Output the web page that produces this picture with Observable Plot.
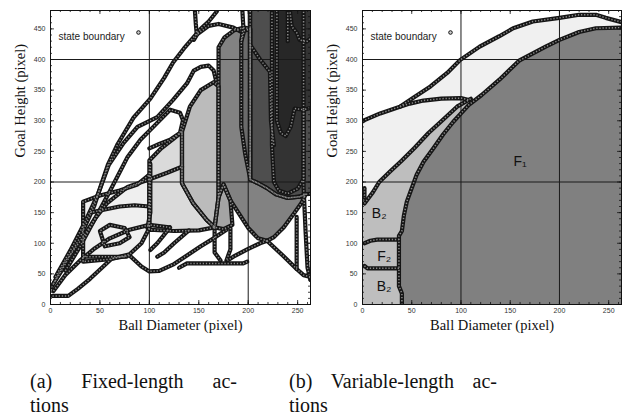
<!DOCTYPE html>
<html><head><meta charset="utf-8">
<script src="https://cdn.jsdelivr.net/npm/d3@7"></script>
<script src="https://cdn.jsdelivr.net/npm/@observablehq/plot@0.6"></script>
<style>
body{margin:0;background:#fff;width:628px;height:419px;overflow:hidden;position:relative;font-family:"Liberation Sans",Arial,sans-serif}
.panel{position:absolute;top:0}
.cap{position:absolute;font-family:"Liberation Serif","Times New Roman",serif;font-size:20px;color:#111;line-height:24px}
.cap .l1{text-align:justify;text-align-last:justify}
</style></head><body>
<div id="a" class="panel" style="left:0"></div>
<div id="b" class="panel" style="left:314px"></div>
<div class="cap" style="left:30px;top:369px;width:207px"><div class="l1">(a) Fixed-length ac-</div><div>tions</div></div>
<div class="cap" style="left:289px;top:369px;width:208px"><div class="l1">(b) Variable-length ac-</div><div>tions</div></div>
<script>
// ---------- axes / ticks ----------
const xTicks = [0, 50, 100, 150, 200, 250];
const yTicks = [0, 50, 100, 150, 200, 250, 300, 350, 400, 450];
const xMinor = [0,10,20,30,40,50,60,70,80,90,100,110,120,130,140,150,160,170,180,190,200,210,220,230,240,250,260];
const yMinor = [0,10,20,30,40,50,60,70,80,90,100,110,120,130,140,150,160,170,180,190,200,210,220,230,240,250,260,270,280,290,300,310,320,330,340,350,360,370,380,390,400,410,420,430,440,450,460,470,480];
const gridX = [100, 200];
const gridY = [200, 400];
const xLabel = "Ball Diameter (pixel)";
const yLabel = "Goal Height (pixel)";
const legendLabel = "state boundary";

// ---------- panel (a): shaded regions ----------
const regionA  = [[33,70],[33,168],[50,178],[70,186],[88,196],[100,212],[100,125],[92,100],[80,82],[60,74]];
const regionB  = [[100,122],[100,235],[112,255],[124,270],[133,282],[133,198],[144,166],[158,138],[166,126],[150,121],[125,120]];
const regionC  = [[133,198],[133,282],[141,323],[152,350],[165,363],[170,356],[170,175],[166,126],[158,138],[144,166]];
const regionD  = [[166,126],[170,175],[175,196],[182,170],[184,130],[175,123]];
const regionE  = [[170,175],[170,420],[176,436],[186,448],[196,452],[202,450],[202,204],[210,198],[219,190],[228,180],[240,174],[252,176],[258,180],[254,166],[246,148],[236,126],[226,110],[219,104],[210,108],[200,125],[190,150],[182,170],[175,196]];
const regionE2 = [[193,290],[193,430],[196,447],[202,450],[202,205],[197,245]];
const regionG  = [[202,495],[275,495],[275,182],[258,180],[252,176],[240,174],[228,180],[219,190],[210,198],[202,204]];
const regionH  = [[224,495],[275,495],[275,326],[256,318],[256,205],[250,189],[240,181],[231,186],[226,200],[224,260]];
const regionH2 = [[229,495],[256,495],[256,318],[247,320],[243,290],[238,275],[233,280],[229,300]];
const shadesA = ["#efefef","#dadada","#bbbbbb","#a4a4a4","#828282","#6a6a6a","#4e4e4e","#333333","#272727"];
const regionsA = [regionA, regionB, regionC, regionD, regionE, regionE2, regionG, regionH, regionH2];

// ---------- panel (a): other state boundaries ----------
const curvesA = [
  [[3,34],[10,52],[17,72],[30,110],[44,160],[58,228],[68,262],[84,305],[101,336],[115,370],[124,395],[135,418],[144,435],[152,450],[160,462],[168,478]],
  [[146,482],[147,458],[148,440],[145,432]],
  [[149,442],[160,455],[170,458],[185,452],[192,446]],
  [[194,482],[195,455],[193,430]],
  [[5,45],[20,88],[35,135],[48,180],[59,228],[74,264],[88,290],[108,306],[124,334],[138,361],[145,382],[152,388],[160,390],[165,382],[168,362]],
  [[15,55],[30,95],[45,140],[60,185],[78,241],[91,269],[104,290],[121,318],[131,313],[134,301],[131,280],[121,269],[110,262],[100,255]],
  [[1,28],[15,70],[33,110],[45,140],[57,165],[78,192],[101,205],[118,215],[133,225]],
  [[3,22],[15,48],[30,72],[45,92],[60,108],[80,122],[100,130],[120,126]],
  [[2,14],[18,14],[28,26],[40,42],[52,60],[62,75],[80,80],[92,62],[100,54],[110,55],[125,66],[138,80],[152,95],[165,108],[178,122]],
  [[130,60],[138,67],[195,67],[199,70]],
  [[166,126],[166,85],[172,72]],
  [[182,125],[182,90],[178,72]],
  [[219,104],[212,100],[199,90],[185,78],[179,72]],
  [[219,104],[235,80],[249,58],[256,48],[263,45]],
  [[249,143],[249,100],[249,58]],
  [[256,318],[256,192],[258,120],[260,60],[263,40]],
  [[121,126],[108,100],[101,89]],
  [[140,121],[125,100],[115,85],[108,78]],
  [[33,78],[50,78],[77,78]],
  [[40,150],[55,155],[70,160],[85,162],[100,160]],
  [[55,95],[70,100],[80,110],[75,125],[60,130],[50,120],[55,95]],
  [[101,230],[101,150],[98,125]],
  [[242,482],[244,454],[249,444],[252,432],[259,429],[265,437]],
  [[202,424],[212,400],[222,380],[223,300],[226,260]],
  [[240,482],[240,430]]
];

// ---------- panel (b) ----------
const upperCurve = [[0,299],[2,301],[18,312],[38,323],[52,338],[69,356],[86,378],[99,399],[119,421],[139,438],[153,451],[173,462],[200,468],[220,473],[237,473],[247,468],[263,461]];
const shelfCurve = [[38,323],[48,328],[62,333],[80,336],[100,337],[108,334]];
const midCurve   = [[2,165],[10,182],[17,200],[28,217],[40,235],[53,256],[67,280],[82,302],[96,323],[110,336]];
const midStub    = [[2,190],[2,174]];
const f1Curve    = [[40,0],[40,18],[37,30],[37,112],[40,120],[42,145],[45,168],[50,190],[55,212],[62,233],[72,255],[82,278],[92,298],[100,312],[108,326],[121,342],[139,367],[159,398],[186,421],[200,432],[220,445],[237,451],[263,452]];
const line105    = [[2,100],[8,104],[15,106],[37,106]];
const line58     = [[2,63],[5,59],[37,59]];
const shadesB = ["#f0f0f0", "#bebebe", "#808080"];
const regionsB = [
  [[-10,-10],[-10,299], ...upperCurve, [275,461],[275,-10]],
  [[-10,-10],[-10,165], ...midCurve, [130,336],[130,-10]],
  [[40,-10], ...f1Curve, [275,452],[275,-10]]
];
const curvesB = [upperCurve, shelfCurve, midCurve, midStub, f1Curve, line105, line58];
const regionLabels = [
  {x: 160, y: 233, t: "F\u2081"},
  {x: 17, y: 149, t: "B\u2082"},
  {x: 22, y: 78, t: "F\u2082"},
  {x: 22, y: 29, t: "B\u2082"}
];

function panel(opts) {
  const {regions, shades, curves, outlineRegions, labels, marginLeft, marginRight} = opts;
  const marks = [];
  regions.forEach((pts, i) => marks.push(Plot.line(pts, {x: d => d[0], y: d => d[1], fill: shades[i], stroke: "none", clip: true, curve: "linear"})));
  marks.push(Plot.ruleX(gridX, {stroke: "#1a1a1a", strokeWidth: 1}));
  marks.push(Plot.ruleY(gridY, {stroke: "#1a1a1a", strokeWidth: 1}));
  const all = (outlineRegions ? regions.map(p => [...p, p[0]]) : []).concat(curves);
  const flat = all.flatMap((pts, i) => pts.map(p => ({x: p[0], y: p[1], id: i})));
  marks.push(Plot.line(flat, {x: "x", y: "y", z: "id", stroke: "#151515", strokeWidth: 4.2, clip: true, strokeLinejoin: "round", strokeLinecap: "round"}));
  marks.push(Plot.line(flat, {x: "x", y: "y", z: "id", stroke: "#8a8a8a", strokeWidth: 1.5, strokeDasharray: "1.3,1.8", clip: true, strokeLinecap: "butt"}));
  // inner ticks on all four sides
  const tk = {stroke: "#111", strokeWidth: 0.8};
  marks.push(Plot.ruleX(xMinor, {...tk, y1: 0, y2: 3.3}));
  marks.push(Plot.ruleX(xMinor, {...tk, y1: 480, y2: 476.7}));
  marks.push(Plot.ruleX(xTicks, {...tk, y1: 0, y2: 6.5}));
  marks.push(Plot.ruleX(xTicks, {...tk, y1: 480, y2: 473.5}));
  marks.push(Plot.ruleY(yMinor, {...tk, x1: 0, x2: 2}));
  marks.push(Plot.ruleY(yMinor, {...tk, x1: 263, x2: 261}));
  marks.push(Plot.ruleY(yTicks, {...tk, x1: 0, x2: 4}));
  marks.push(Plot.ruleY(yTicks, {...tk, x1: 263, x2: 259}));
  if (labels) marks.push(Plot.text(labels, {x: "x", y: "y", text: "t", fontSize: 14, fill: "#111", fontFamily: "Liberation Sans, Arial, sans-serif"}));
  marks.push(Plot.frame({stroke: "#111", strokeWidth: 1}));
  marks.push(Plot.axisX({ticks: xTicks, tickSize: 0, tickPadding: 4, fontSize: 7, label: null, fill: "#333"}));
  marks.push(Plot.axisY({ticks: yTicks, tickSize: 0, tickPadding: 5, fontSize: 7, label: null, fill: "#333"}));
  marks.push(Plot.text([xLabel], {text: d => d, frameAnchor: "bottom", dy: 25, fontSize: 14.5, fontFamily: "Liberation Serif, Times New Roman, serif", fill: "#111"}));
  marks.push(Plot.text([yLabel], {text: d => d, frameAnchor: "left", dx: -30, rotate: -90, fontSize: 14.5, fontFamily: "Liberation Serif, Times New Roman, serif", fill: "#111"}));
  marks.push(Plot.text([legendLabel], {text: d => d, frameAnchor: "top-left", dx: 8, dy: 22, textAnchor: "start", fontSize: 10, fill: "#222"}));
  marks.push(Plot.dot([legendLabel], {frameAnchor: "top-left", dx: 88, dy: 22, r: 1.8, stroke: "#111", strokeWidth: 1, fill: "#ccc"}));
  return Plot.plot({
    width: 314, height: 340,
    marginLeft, marginRight, marginTop: 10, marginBottom: 36,
    x: {domain: [0, 263]},
    y: {domain: [0, 480]},
    style: {background: "#fff", fontFamily: "Liberation Sans, Arial, sans-serif"},
    marks
  });
}

document.getElementById("a").append(panel({regions: regionsA, shades: shadesA, curves: curvesA, outlineRegions: true, labels: null, marginLeft: 50, marginRight: 4}));
document.getElementById("b").append(panel({regions: regionsB, shades: shadesB, curves: curvesB, outlineRegions: false, labels: regionLabels, marginLeft: 48, marginRight: 7}));
</script>
</body></html>
